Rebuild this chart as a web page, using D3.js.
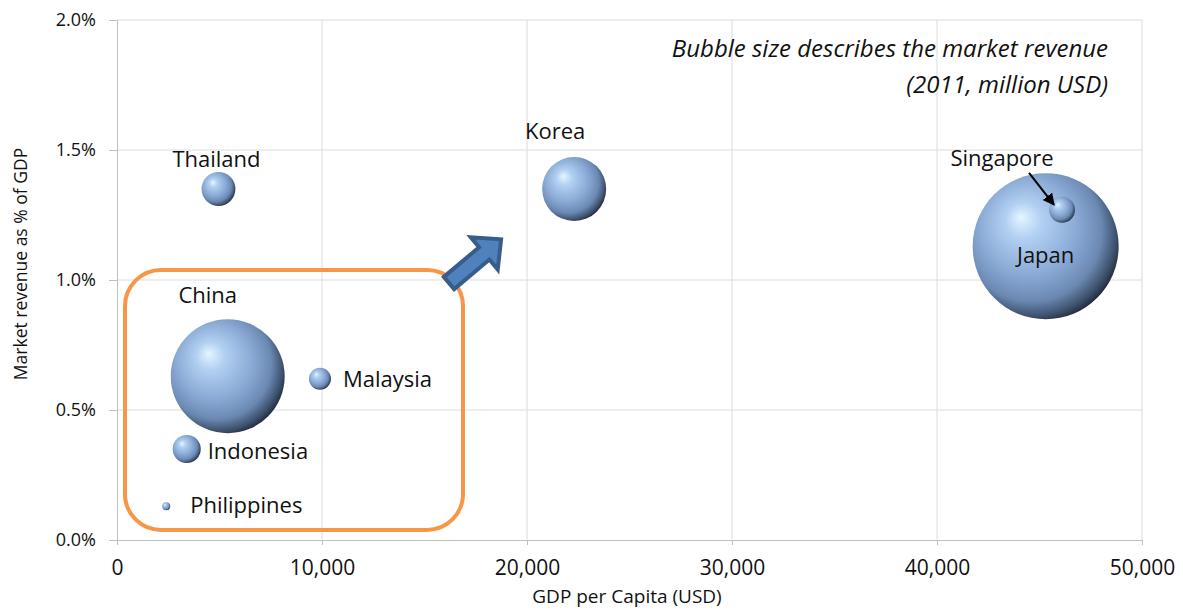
<!DOCTYPE html>
<html>
<head>
<meta charset="utf-8">
<script src="https://cdn.jsdelivr.net/npm/d3@7"></script>
<style>
  body { margin: 0; background: #fff; }
  text { font-family: "Open Sans", "Noto Sans", sans-serif; fill: #111; }
</style>
</head>
<body>
<svg id="chart" width="1183" height="610"></svg>
<script>
// chart data
var countries = ["Thailand", "Korea", "Japan", "Singapore", "China", "Malaysia", "Indonesia", "Philippines"];
var gdpPerCapita = [4950, 22300, 45300, 46100, 5400, 9900, 3400, 2400];
var revenueShare = [1.35, 1.35, 1.13, 1.27, 0.63, 0.62, 0.35, 0.13];
var revenue = [3500, 12500, 65000, 2050, 39600, 1480, 2400, 195];
var xTicks = [0, 10000, 20000, 30000, 40000, 50000];
var yTicks = [0, 0.5, 1.0, 1.5, 2.0];

// label placement per country: anchor and offset from bubble centre
var labelPos = {
  Thailand: ["middle", -2, -22],
  Korea: ["middle", -19, -50],
  Japan: ["middle", 0, 17],
  Singapore: ["middle", -60, -44],
  China: ["middle", -20, -73],
  Malaysia: ["start", 23, 8],
  Indonesia: ["start", 21, 10],
  Philippines: ["start", 24, 7]
};

var svg = d3.select("#chart");
var x = d3.scaleLinear().domain([0, 50000]).range([117, 1142]);
var y = d3.scaleLinear().domain([0, 2.0]).range([540, 20]);
var r = d3.scaleSqrt().domain([0, d3.max(revenue)]).range([0, 73]);

var defs = svg.append("defs");
var grad = defs.append("radialGradient").attr("id", "ball")
  .attr("cx", "0.42").attr("cy", "0.42").attr("r", "0.62")
  .attr("fx", "0.33").attr("fy", "0.3");
grad.append("stop").attr("offset", "0").attr("stop-color", "#e4f6ff");
grad.append("stop").attr("offset", "0.2").attr("stop-color", "#b2d0f2");
grad.append("stop").attr("offset", "0.55").attr("stop-color", "#89a9d4");
grad.append("stop").attr("offset", "0.78").attr("stop-color", "#6a88b2");
grad.append("stop").attr("offset", "0.92").attr("stop-color", "#3d516c");
grad.append("stop").attr("offset", "1").attr("stop-color", "#1c2736");

defs.append("marker").attr("id", "tip")
  .attr("viewBox", "0 0 10 10").attr("refX", 9).attr("refY", 5)
  .attr("markerWidth", 6).attr("markerHeight", 6).attr("orient", "auto")
  .append("path").attr("d", "M0,0L10,5L0,10z").attr("fill", "#000");

// grid
svg.append("g").selectAll("line").data(yTicks.slice(1)).join("line")
  .attr("x1", x(0)).attr("x2", x(50000))
  .attr("y1", d => y(d)).attr("y2", d => y(d))
  .attr("stroke", "#dcdcdc");
svg.append("g").selectAll("line").data(xTicks.slice(1)).join("line")
  .attr("x1", d => x(d)).attr("x2", d => x(d))
  .attr("y1", y(0)).attr("y2", y(2.0))
  .attr("stroke", "#dcdcdc");

// axes
var xAxis = svg.append("g").attr("transform", "translate(0," + y(0) + ")")
  .call(d3.axisBottom(x).tickValues(xTicks).tickSize(5).tickPadding(15).tickFormat(d3.format(",")));
var yAxis = svg.append("g").attr("transform", "translate(" + x(0) + ",0)")
  .call(d3.axisLeft(y).tickValues(yTicks).tickSize(8).tickPadding(13).tickFormat(d => d.toFixed(1) + "%"));
[xAxis, yAxis].forEach(function (a) {
  a.select(".domain").attr("stroke", "#bfbfbf");
  a.selectAll(".tick line").attr("stroke", "#bfbfbf");
  a.selectAll("text").attr("fill", "#111")
    .style("font-family", "'Open Sans', sans-serif");
});
xAxis.selectAll("text").style("font-size", "21px");
yAxis.selectAll("text").style("font-size", "18px");

svg.append("text").attr("x", 627).attr("y", 603).attr("text-anchor", "middle")
  .style("font-size", "19px").text("GDP per Capita (USD)");
svg.append("text").attr("transform", "translate(27,264) rotate(-90)").attr("text-anchor", "middle")
  .style("font-size", "17.5px").text("Market revenue as % of GDP");

// note
var note = svg.append("text").attr("text-anchor", "end").style("font-style", "italic").style("font-size", "24px");
note.append("tspan").attr("x", 1108).attr("y", 57).text("Bubble size describes the market revenue");
note.append("tspan").attr("x", 1108).attr("y", 93).text("(2011, million USD)");

// orange box around the emerging group
svg.append("rect").attr("x", 125).attr("y", 270).attr("width", 338).attr("height", 260)
  .attr("rx", 36).attr("fill", "none").attr("stroke", "#f79646").attr("stroke-width", 4);

// bubbles, biggest first so small ones stay on top
var rows = countries.map(function (c, i) {
  return { name: c, gdp: gdpPerCapita[i], share: revenueShare[i], rev: revenue[i] };
});
svg.append("g").selectAll("circle")
  .data(rows.slice().sort((a, b) => b.rev - a.rev)).join("circle")
  .attr("cx", d => x(d.gdp)).attr("cy", d => y(d.share)).attr("r", d => r(d.rev))
  .attr("fill", "url(#ball)");

// labels
svg.append("g").selectAll("text").data(rows).join("text")
  .attr("x", d => x(d.gdp) + labelPos[d.name][1])
  .attr("y", d => y(d.share) + labelPos[d.name][2])
  .attr("text-anchor", d => labelPos[d.name][0])
  .style("font-size", "22px")
  .text(d => d.name);

// pointer from Singapore label to its bubble
var sg = rows[3];
svg.append("line")
  .attr("x1", x(sg.gdp) - 33).attr("y1", y(sg.share) - 37)
  .attr("x2", x(sg.gdp) - 8).attr("y2", y(sg.share) - 5)
  .attr("stroke", "#000").attr("stroke-width", 2).attr("marker-end", "url(#tip)");

// block arrow pointing up-right
var arrow = svg.append("g").attr("transform", "translate(449,283) rotate(-40)");
arrow.append("path")
  .attr("d", "M0,-8L46,-8L46,-21L68,0L46,21L46,8L0,8Z")
  .attr("fill", "#4f81bd").attr("stroke", "#385d8a").attr("stroke-width", 4)
  .attr("stroke-linejoin", "miter");
</script>
</body>
</html>
